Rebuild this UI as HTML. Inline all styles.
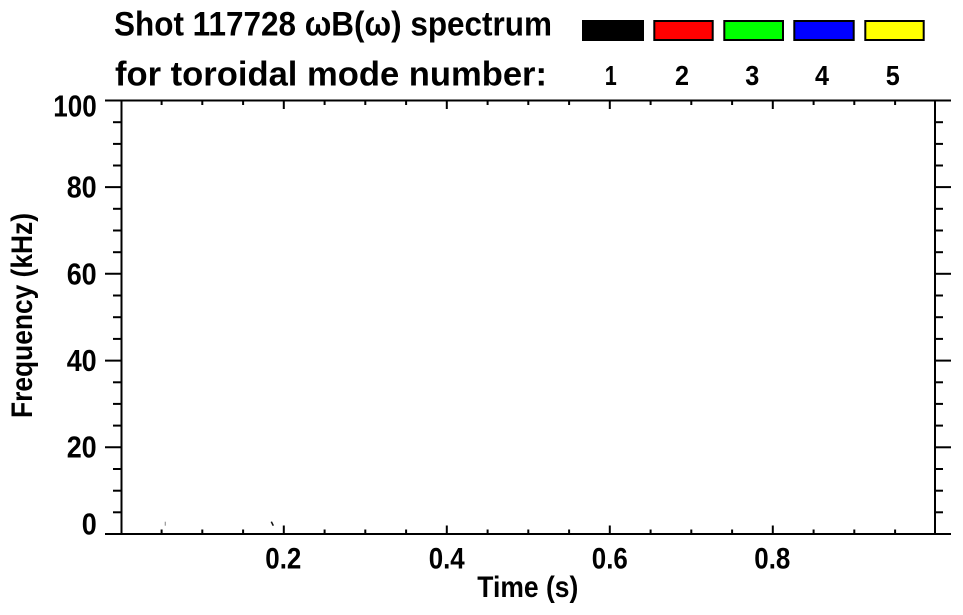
<!DOCTYPE html>
<html>
<head>
<meta charset="utf-8">
<style>
  html, body { margin:0; padding:0; background:#ffffff; }
  svg { display:block; }
  text { font-family: "Liberation Sans", Arial, sans-serif; font-weight: bold; fill:#000; }
</style>
</head>
<body>
<svg width="963" height="615" viewBox="0 0 963 615" xmlns="http://www.w3.org/2000/svg">
  <rect x="0" y="0" width="963" height="615" fill="#fff"/>

  <!-- Title -->
  <text x="114" y="35.5" font-size="34.5" textLength="438" lengthAdjust="spacingAndGlyphs">Shot 117728 ωB(ω) spectrum</text>
  <text x="115" y="85.5" font-size="34.5" textLength="432" lengthAdjust="spacingAndGlyphs">for toroidal mode number:</text>

  <!-- Legend boxes -->
  <rect x="582" y="20" width="62" height="21" fill="#000"/>
  <rect x="654.3" y="21" width="58.4" height="19" fill="#ff0000" stroke="#000" stroke-width="2"/>
  <rect x="724.3" y="21" width="58.7" height="19" fill="#00ff00" stroke="#000" stroke-width="2"/>
  <rect x="794.3" y="21" width="59.4" height="19" fill="#0000ff" stroke="#000" stroke-width="2"/>
  <rect x="865.3" y="21" width="58.4" height="19" fill="#ffff00" stroke="#000" stroke-width="2"/>

  <g font-size="28" text-anchor="middle">
    <text x="610.7" y="85" textLength="12" lengthAdjust="spacingAndGlyphs">1</text>
    <text x="682" y="85" textLength="14" lengthAdjust="spacingAndGlyphs">2</text>
    <text x="752.3" y="85" textLength="14" lengthAdjust="spacingAndGlyphs">3</text>
    <text x="822" y="85" textLength="14" lengthAdjust="spacingAndGlyphs">4</text>
    <text x="892.7" y="85" textLength="14" lengthAdjust="spacingAndGlyphs">5</text>
  </g>

  <!-- Axes box -->
  <g stroke="#000" stroke-width="2" fill="none">
    <line x1="121.5" y1="100.5" x2="121.5" y2="534"/>
    <line x1="935" y1="100.5" x2="935" y2="534"/>
    <line x1="105" y1="100.5" x2="951" y2="100.5"/>
    <line x1="105" y1="534" x2="951" y2="534"/>

    <!-- Y major ticks (outward, left & right) -->
    <line x1="105" y1="187.1" x2="121.5" y2="187.1"/>
    <line x1="105" y1="273.8" x2="121.5" y2="273.8"/>
    <line x1="105" y1="360.6" x2="121.5" y2="360.6"/>
    <line x1="105" y1="447.3" x2="121.5" y2="447.3"/>
    <line x1="935" y1="187.1" x2="951" y2="187.1"/>
    <line x1="935" y1="273.8" x2="951" y2="273.8"/>
    <line x1="935" y1="360.6" x2="951" y2="360.6"/>
    <line x1="935" y1="447.3" x2="951" y2="447.3"/>

    <!-- Y minor ticks -->
    <g>
      <line x1="113" y1="122.2" x2="121.5" y2="122.2"/>
      <line x1="113" y1="143.9" x2="121.5" y2="143.9"/>
      <line x1="113" y1="165.5" x2="121.5" y2="165.5"/>
      <line x1="113" y1="208.8" x2="121.5" y2="208.8"/>
      <line x1="113" y1="230.5" x2="121.5" y2="230.5"/>
      <line x1="113" y1="252.2" x2="121.5" y2="252.2"/>
      <line x1="113" y1="295.5" x2="121.5" y2="295.5"/>
      <line x1="113" y1="317.2" x2="121.5" y2="317.2"/>
      <line x1="113" y1="338.9" x2="121.5" y2="338.9"/>
      <line x1="113" y1="382.3" x2="121.5" y2="382.3"/>
      <line x1="113" y1="403.9" x2="121.5" y2="403.9"/>
      <line x1="113" y1="425.6" x2="121.5" y2="425.6"/>
      <line x1="113" y1="469.0" x2="121.5" y2="469.0"/>
      <line x1="113" y1="490.7" x2="121.5" y2="490.7"/>
      <line x1="113" y1="512.3" x2="121.5" y2="512.3"/>

      <line x1="935" y1="122.2" x2="943" y2="122.2"/>
      <line x1="935" y1="143.9" x2="943" y2="143.9"/>
      <line x1="935" y1="165.5" x2="943" y2="165.5"/>
      <line x1="935" y1="208.8" x2="943" y2="208.8"/>
      <line x1="935" y1="230.5" x2="943" y2="230.5"/>
      <line x1="935" y1="252.2" x2="943" y2="252.2"/>
      <line x1="935" y1="295.5" x2="943" y2="295.5"/>
      <line x1="935" y1="317.2" x2="943" y2="317.2"/>
      <line x1="935" y1="338.9" x2="943" y2="338.9"/>
      <line x1="935" y1="382.3" x2="943" y2="382.3"/>
      <line x1="935" y1="403.9" x2="943" y2="403.9"/>
      <line x1="935" y1="425.6" x2="943" y2="425.6"/>
      <line x1="935" y1="469.0" x2="943" y2="469.0"/>
      <line x1="935" y1="490.7" x2="943" y2="490.7"/>
      <line x1="935" y1="512.3" x2="943" y2="512.3"/>
    </g>

    <!-- X major ticks (inward, bottom & top) -->
    <line x1="283.8" y1="534" x2="283.8" y2="525.5"/>
    <line x1="446.8" y1="534" x2="446.8" y2="525.5"/>
    <line x1="609.8" y1="534" x2="609.8" y2="525.5"/>
    <line x1="772.8" y1="534" x2="772.8" y2="525.5"/>
    <line x1="283.8" y1="100.5" x2="283.8" y2="109"/>
    <line x1="446.8" y1="100.5" x2="446.8" y2="109"/>
    <line x1="609.8" y1="100.5" x2="609.8" y2="109"/>
    <line x1="772.8" y1="100.5" x2="772.8" y2="109"/>

    <!-- X minor ticks -->
    <g>
      <line x1="161.6" y1="534" x2="161.6" y2="529.5"/>
      <line x1="202.3" y1="534" x2="202.3" y2="529.5"/>
      <line x1="243.1" y1="534" x2="243.1" y2="529.5"/>
      <line x1="324.6" y1="534" x2="324.6" y2="529.5"/>
      <line x1="365.3" y1="534" x2="365.3" y2="529.5"/>
      <line x1="406.1" y1="534" x2="406.1" y2="529.5"/>
      <line x1="487.6" y1="534" x2="487.6" y2="529.5"/>
      <line x1="528.3" y1="534" x2="528.3" y2="529.5"/>
      <line x1="569.1" y1="534" x2="569.1" y2="529.5"/>
      <line x1="650.6" y1="534" x2="650.6" y2="529.5"/>
      <line x1="691.3" y1="534" x2="691.3" y2="529.5"/>
      <line x1="732.1" y1="534" x2="732.1" y2="529.5"/>
      <line x1="813.6" y1="534" x2="813.6" y2="529.5"/>
      <line x1="854.3" y1="534" x2="854.3" y2="529.5"/>
      <line x1="895.1" y1="534" x2="895.1" y2="529.5"/>

      <line x1="161.6" y1="100.5" x2="161.6" y2="105"/>
      <line x1="202.3" y1="100.5" x2="202.3" y2="105"/>
      <line x1="243.1" y1="100.5" x2="243.1" y2="105"/>
      <line x1="324.6" y1="100.5" x2="324.6" y2="105"/>
      <line x1="365.3" y1="100.5" x2="365.3" y2="105"/>
      <line x1="406.1" y1="100.5" x2="406.1" y2="105"/>
      <line x1="487.6" y1="100.5" x2="487.6" y2="105"/>
      <line x1="528.3" y1="100.5" x2="528.3" y2="105"/>
      <line x1="569.1" y1="100.5" x2="569.1" y2="105"/>
      <line x1="650.6" y1="100.5" x2="650.6" y2="105"/>
      <line x1="691.3" y1="100.5" x2="691.3" y2="105"/>
      <line x1="732.1" y1="100.5" x2="732.1" y2="105"/>
      <line x1="813.6" y1="100.5" x2="813.6" y2="105"/>
      <line x1="854.3" y1="100.5" x2="854.3" y2="105"/>
      <line x1="895.1" y1="100.5" x2="895.1" y2="105"/>
    </g>
  </g>

  <!-- tiny data marks -->
  <line x1="165.3" y1="521.7" x2="165.3" y2="525.7" stroke="#999" stroke-width="1.2"/>
  <line x1="271.3" y1="521.7" x2="273.3" y2="525.7" stroke="#111" stroke-width="1.6"/>

  <!-- Y tick labels -->
  <g font-size="30.5" text-anchor="end">
    <text x="96.7" y="116.3" textLength="43.4" lengthAdjust="spacingAndGlyphs">100</text>
    <text x="96.7" y="197.5" textLength="30" lengthAdjust="spacingAndGlyphs">80</text>
    <text x="96.7" y="284.5" textLength="30" lengthAdjust="spacingAndGlyphs">60</text>
    <text x="96.7" y="371.2" textLength="30" lengthAdjust="spacingAndGlyphs">40</text>
    <text x="96.7" y="457.5" textLength="30" lengthAdjust="spacingAndGlyphs">20</text>
    <text x="96.7" y="534.5" textLength="15" lengthAdjust="spacingAndGlyphs">0</text>
  </g>

  <!-- X tick labels -->
  <g font-size="30" text-anchor="middle">
    <text x="283.3" y="568.3" textLength="36" lengthAdjust="spacingAndGlyphs">0.2</text>
    <text x="446.7" y="568.3" textLength="36" lengthAdjust="spacingAndGlyphs">0.4</text>
    <text x="609.8" y="568.3" textLength="36" lengthAdjust="spacingAndGlyphs">0.6</text>
    <text x="772.3" y="568.3" textLength="36" lengthAdjust="spacingAndGlyphs">0.8</text>
  </g>

  <!-- Axis titles -->
  <text x="527.8" y="597" font-size="29.5" text-anchor="middle" textLength="101" lengthAdjust="spacingAndGlyphs">Time (s)</text>
  <text transform="translate(32,315.5) rotate(-90)" x="0" y="0" font-size="29.5" text-anchor="middle" textLength="205" lengthAdjust="spacingAndGlyphs">Frequency (kHz)</text>
</svg>
</body>
</html>
